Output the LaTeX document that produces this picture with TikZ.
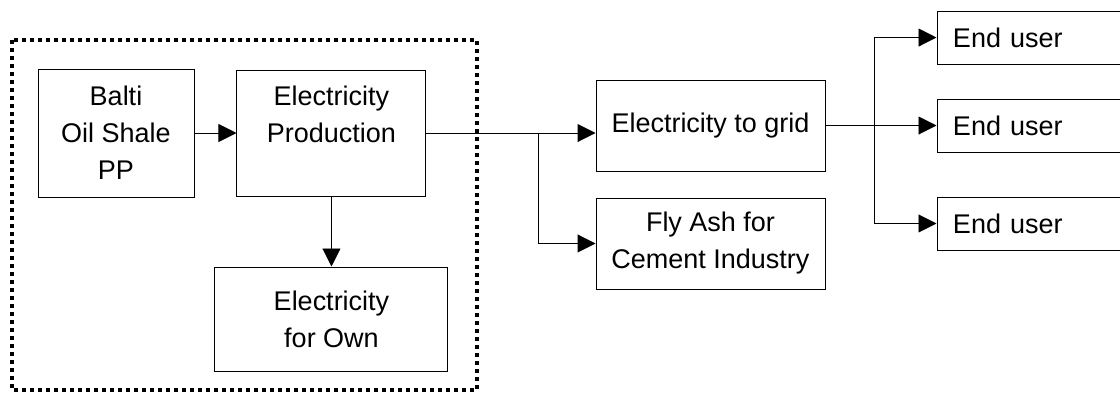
\documentclass[tikz,border=0pt]{standalone}
\usepackage{fontspec}
\setmainfont{Liberation Sans}
\usepackage{tikz}
\usetikzlibrary{arrows.meta, positioning}
\tikzstyle{block} = [rectangle, 
draw=black, 
line width=0.7pt, 
align=center, 
inner sep=0pt, 
font=\fontsize{19.2}{26.3}\selectfont]
\tikzstyle{userbox} = [block, 
minimum height=1.325cm, 
text width=4.2cm, 
align=left, 
inner xsep=0.4cm]
\tikzstyle{arrow} = [line width=0.7pt,-{Triangle[length=0.45cm,width=0.45cm]}]
\tikzstyle{frame} = [line width=2.4pt, dash pattern=on 0.1cm off 0.1cm]

\begin{document}
\begin{tikzpicture}[node distance=1cm]
        \useasboundingbox (0,0) rectangle (28,-9.8);

        \node (balti) [block, minimum width=3.9cm, minimum height=3.2cm] at (2.9,-3.325) {Balti\\Oil Shale\\PP};
        \node (prod) [block, minimum width=4.725cm, minimum height=3.15cm, right=1.05cm of balti] {Electricity\\Production\\\mbox{}};
        \node (own) [block, minimum width=5.825cm, minimum height=2.6cm, below=1.75cm of prod] {Electricity\\for Own};
        \node (grid) [block, minimum width=5.725cm, minimum height=2.275cm] at (17.7625,-3.1375) {Electricity to grid};
        \node (fly) [block, minimum width=5.725cm, minimum height=2.275cm, below=0.65cm of grid] {Fly Ash for\\Cement Industry};
        \node (user2) [userbox, right=2.775cm of grid] {End user};
        \node (user1) [userbox, above=0.85cm of user2] {End user};
        \node (user3) [userbox, below=1.1cm of user2] {End user};

        \coordinate (split) at ([xshift=2.8cm]prod.east);
        \coordinate (fork) at ([xshift=1.225cm]grid.east);

        \draw [arrow] (balti) -- (prod);
        \draw [arrow] (prod) -- (own);
        \draw [arrow] (prod.east) -- (prod.east -| grid.west);
        \draw [arrow] (split) |- (fly.west);
        \draw [arrow] (grid.east) -- (user2.west);
        \draw [arrow] (fork) |- (user1.west);
        \draw [arrow] (fork) |- (user3.west);

        \draw [frame] (0.3,-1) rectangle (11.925,-9.75);

    \end{tikzpicture}
\end{document}
